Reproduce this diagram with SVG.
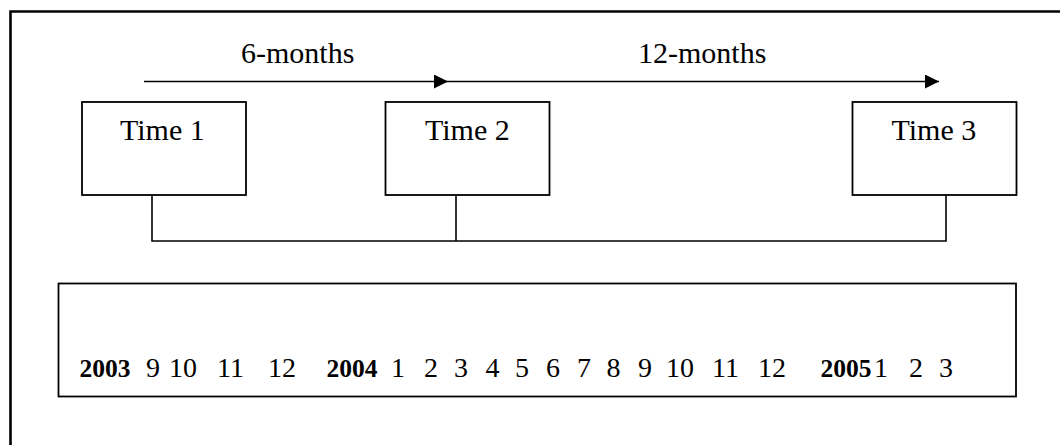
<svg xmlns="http://www.w3.org/2000/svg" width="1060" height="445" viewBox="0 0 1060 445">
  <defs>
    <marker id="head" markerUnits="userSpaceOnUse" markerWidth="16" markerHeight="16" refX="14" refY="7" orient="auto">
      <path d="M0,0 L14,7 L0,14 Z" fill="#000"/>
    </marker>
    <style>
      .frame { fill: none; stroke: #000; stroke-width: 2.6; }
      .box { fill: #fff; stroke: #000; stroke-width: 1.8; }
      .wire { fill: none; stroke: #000; stroke-width: 1.6; }
      .lbl { font-family: "Liberation Serif", "Times New Roman", serif; font-size: 30px; fill: #000; }
      .row { font-family: "Liberation Serif", "Times New Roman", serif; font-size: 28px; fill: #000; }
      .yr { font-weight: bold; font-size: 25.5px; }
    </style>
  </defs>

  <rect width="1060" height="445" fill="#fff"/>

  <!-- outer frame (runs off the right and bottom edges) -->
  <path class="frame" d="M10.5,446 V11.5 H1061"/>

  <!-- connectors -->
  <g id="connectors">
    <line class="wire" x1="144" y1="81.5" x2="448" y2="81.5" marker-end="url(#head)"/>
    <line class="wire" x1="448" y1="81.5" x2="939" y2="81.5" marker-end="url(#head)"/>
    <path class="wire" d="M152,195 V241 H946 V195"/>
    <line class="wire" x1="456" y1="195" x2="456" y2="241"/>
  </g>

  <!-- interval labels -->
  <g id="intervals">
    <text class="lbl" x="241" y="62.5">6-months</text>
    <text class="lbl" x="638" y="62.5">12-months</text>
  </g>

  <g id="time1">
    <rect class="box" x="82" y="102" width="164" height="93"/>
    <text class="lbl" x="120" y="140">Time 1</text>
  </g>
  <g id="time2">
    <rect class="box" x="385.5" y="102" width="164" height="93"/>
    <text class="lbl" x="425" y="140">Time 2</text>
  </g>
  <g id="time3">
    <rect class="box" x="852.5" y="102" width="164" height="93"/>
    <text class="lbl" x="891.5" y="140">Time 3</text>
  </g>

  <!-- month timeline -->
  <g id="timeline">
    <rect class="box" x="58.5" y="283.5" width="957.5" height="113"/>
    <g class="row">
      <text class="yr" x="79.5" y="377">2003</text>
      <text x="146" y="377">9</text>
      <text x="169" y="377">10</text>
      <text x="217" y="377">11</text>
      <text x="268" y="377">12</text>
      <text class="yr" x="326.5" y="377">2004</text>
      <text x="391" y="377">1</text>
      <text x="424" y="377">2</text>
      <text x="454" y="377">3</text>
      <text x="485.5" y="377">4</text>
      <text x="515" y="377">5</text>
      <text x="546" y="377">6</text>
      <text x="577" y="377">7</text>
      <text x="606.5" y="377">8</text>
      <text x="638" y="377">9</text>
      <text x="666" y="377">10</text>
      <text x="712" y="377">11</text>
      <text x="758" y="377">12</text>
      <text class="yr" x="820.5" y="377">2005</text>
      <text x="874" y="377">1</text>
      <text x="909" y="377">2</text>
      <text x="939" y="377">3</text>
    </g>
  </g>
</svg>
